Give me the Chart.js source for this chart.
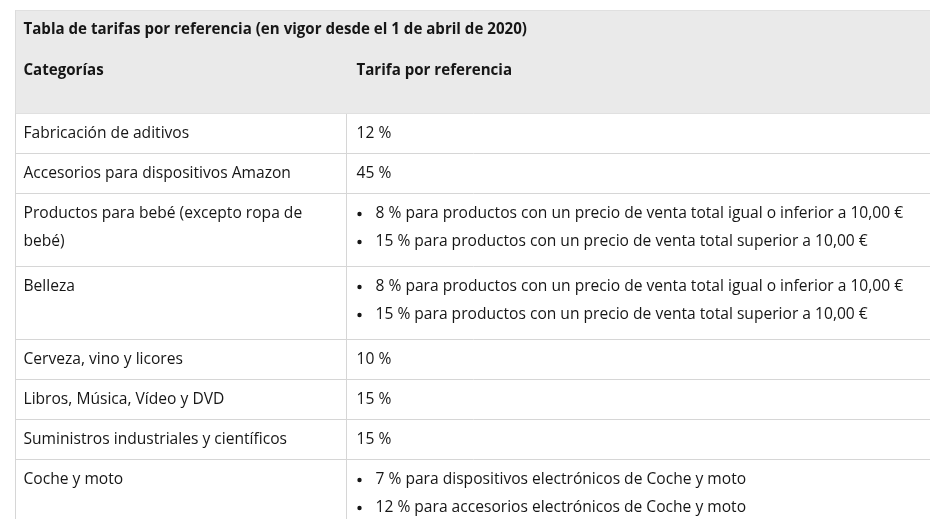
<!DOCTYPE html>
<html>
<head>
<meta charset="utf-8">
<script src="https://cdn.jsdelivr.net/npm/chart.js@4.4.1/dist/chart.umd.min.js"></script>
<style>
  html, body { margin: 0; padding: 0; background: #fff; }
  #wrap { width: 930px; height: 519px; }
</style>
</head>
<body>
<div id="wrap"><canvas id="tableChart" width="930" height="519"></canvas></div>
<script>
const title = 'Tabla de tarifas por referencia (en vigor desde el 1 de abril de 2020)';
const headers = ['Categorías', 'Tarifa por referencia'];
const categories = [
    ['Fabricación de aditivos'],
    ['Accesorios para dispositivos Amazon'],
    ['Productos para bebé (excepto ropa de', 'bebé)'],
    ['Belleza'],
    ['Cerveza, vino y licores'],
    ['Libros, Música, Vídeo y DVD'],
    ['Suministros industriales y científicos'],
    ['Coche y moto']
];
const rates = [
    ['12 %'],
    ['45 %'],
    ['8 % para productos con un precio de venta total igual o inferior a 10,00 €', '15 % para productos con un precio de venta total superior a 10,00 €'],
    ['8 % para productos con un precio de venta total igual o inferior a 10,00 €', '15 % para productos con un precio de venta total superior a 10,00 €'],
    ['10 %'],
    ['15 %'],
    ['15 %'],
    ['7 % para dispositivos electrónicos de Coche y moto', '12 % para accesorios electrónicos de Coche y moto']
];

// layout of the table, in scale units (1 unit = 1 px)
const W = 930, H = 519;
const tLeft = 15, tRight = 935, tSplit = 346, tTop = 10;
const titleH = 40, headH = 63, lineH = 28;
const font = '"Open Sans", sans-serif';
const fontSize = 15.6, boldSize = 15.1;
const textColor = '#161616';
const ruleColor = '#d6d6d6';
const headBg = '#eaeaea';

const headBottom = tTop + titleH + headH;
const rows = [];
let yy = headBottom;
categories.forEach(function(cat, i) {
    const n = Math.max(cat.length, rates[i].length);
    const list = rates[i].length > 1;
    const h = (list ? 17 : 12) + lineH * n;
    rows.push({ top: yy, h: h, list: list });
    yy += h;
});

// horizontal rules + vertical borders as one line dataset with gaps
const rulePts = [];
[tTop, tTop + titleH, headBottom].concat(rows.map(r => r.top + r.h)).forEach(function(y) {
    rulePts.push({ x: tLeft, y: y }, { x: tRight, y: y }, { x: tLeft, y: null });
});
rulePts.push({ x: tLeft, y: tTop }, { x: tLeft, y: H + 20 }, { x: tLeft, y: null });
rulePts.push({ x: tSplit, y: tTop + titleH }, { x: tSplit, y: H + 20 });

const tableText = {
    id: 'tableText',
    afterDatasetsDraw(chart) {
        const ctx = chart.ctx, sx = chart.scales.x, sy = chart.scales.y;
        const px = v => sx.getPixelForValue(v), py = v => sy.getPixelForValue(v);
        ctx.save();
        ctx.fillStyle = textColor;
        ctx.textBaseline = 'middle';
        ctx.font = 'bold ' + boldSize + 'px ' + font;
        ctx.fillText(title, px(tLeft + 8), py(tTop + 19.5));
        ctx.fillText(headers[0], px(tLeft + 8), py(tTop + titleH + 20));
        ctx.fillText(headers[1], px(tSplit + 10), py(tTop + titleH + 20));
        ctx.font = fontSize + 'px ' + font;
        rows.forEach(function(r, i) {
            categories[i].forEach(function(t, k) {
                ctx.fillText(t, px(tLeft + 8), py(r.top + 20 + lineH * k));
            });
            rates[i].forEach(function(t, k) {
                const cy = py(r.top + 20.5 + lineH * k);
                if (r.list) {
                    ctx.beginPath();
                    ctx.arc(px(tSplit + 13), cy, 2.2, 0, Math.PI * 2);
                    ctx.fill();
                    ctx.fillText(t, px(tSplit + 29), cy);
                } else {
                    ctx.fillText(t, px(tSplit + 10), cy);
                }
            });
        });
        ctx.restore();
    }
};

new Chart(document.getElementById('tableChart'), {
    type: 'scatter',
    data: {
        datasets: [
            { label: 'headTop', data: [{ x: tLeft, y: tTop }, { x: tRight, y: tTop }], showLine: true, borderWidth: 0, pointRadius: 0, fill: false },
            { label: 'headBg', data: [{ x: tLeft, y: headBottom }, { x: tRight, y: headBottom }], showLine: true, borderWidth: 0, pointRadius: 0, fill: '-1', backgroundColor: headBg },
            { label: 'rules', data: rulePts, showLine: true, spanGaps: false, borderColor: ruleColor, borderWidth: 1, pointRadius: 0, fill: false }
        ]
    },
    options: {
        responsive: false,
        animation: false,
        layout: { padding: 0 },
        plugins: { legend: { display: false }, tooltip: { enabled: false } },
        scales: {
            x: { type: 'linear', display: false, min: -0.5, max: W - 0.5 },
            y: { type: 'linear', display: false, reverse: true, min: -0.5, max: H - 0.5 }
        }
    },
    plugins: [tableText]
});
</script>
</body>
</html>
